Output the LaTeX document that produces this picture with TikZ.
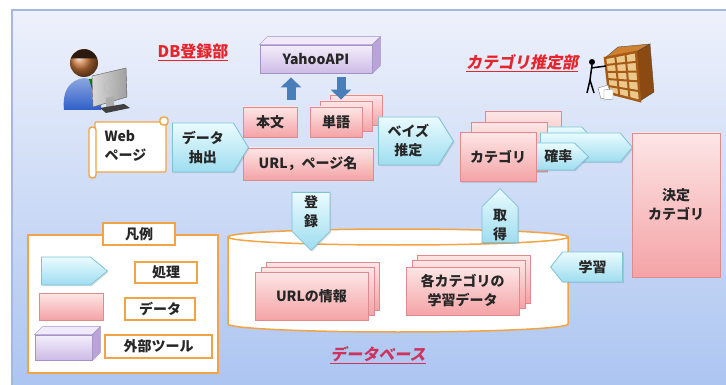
\documentclass[tikz,border=0pt]{standalone}
\usepackage{fontspec}
\setmainfont{Noto Sans CJK JP}
\newfontfamily\slantjp[FakeSlant=0.2]{Noto Sans CJK JP}
\usetikzlibrary{shapes.symbols,shadows,arrows.meta,calc}

\definecolor{proctop}{HTML}{EAFBFE}
\definecolor{procbot}{HTML}{9EDDF0}
\definecolor{procline}{HTML}{7CC3D8}
\definecolor{datatop}{HTML}{FDE6E6}
\definecolor{databot}{HTML}{F4A3A6}
\definecolor{dataline}{HTML}{DE8A8E}
\definecolor{tooltop}{HTML}{F4EEFB}
\definecolor{toolbot}{HTML}{CDBBE6}
\definecolor{toolline}{HTML}{A592C8}
\definecolor{toolcap}{HTML}{F1EAFA}
\definecolor{toolside}{HTML}{B9A3D9}
\definecolor{orangeline}{HTML}{F2A444}
\definecolor{apiblue}{HTML}{4A7EBB}
\definecolor{titlered}{HTML}{E5252B}
\definecolor{dbred}{HTML}{D0325E}
\definecolor{bgtop}{HTML}{EEF1FB}
\definecolor{bgbot}{HTML}{ACC5F1}
\definecolor{frameline}{HTML}{A3B9DF}
\definecolor{ink}{HTML}{262626}
\definecolor{facebrown}{HTML}{C8763A}
\definecolor{hairc}{HTML}{2A1A10}
\definecolor{personblue}{HTML}{2E5FC8}
\definecolor{shelfframe}{HTML}{A65A16}
\definecolor{shelfside}{HTML}{8A4A12}
\definecolor{shelftop}{HTML}{CF8030}
\definecolor{cubby}{HTML}{EBC98C}

\tikzset{
  lbl/.style={font=\fontsize{14}{19}\selectfont\bfseries, text=ink},
  softshadow/.style={drop shadow={shadow xshift=1.2pt, shadow yshift=-1.2pt, opacity=0.25}},
  datacard/.style={rectangle, draw=dataline, line width=0.8pt, top color=datatop,
    bottom color=databot, inner sep=0pt, softshadow, lbl, align=center},
  proc/.style={signal, draw=procline, line width=0.8pt, top color=proctop,
    bottom color=procbot, inner sep=0pt, softshadow, lbl, align=center},
  toolface/.style={rectangle, draw=toolline, line width=0.8pt, top color=tooltop,
    bottom color=toolbot, inner sep=0pt, lbl},
  legendbox/.style={rectangle, draw=orangeline, line width=1.4pt, fill=white, inner sep=0pt},
  legendtag/.style={legendbox, lbl},
  title/.style={font=\fontsize{16}{18}\selectfont\bfseries},
  apiarrow/.style={apiblue, line width=9pt, -{Triangle[length=10pt,width=20pt]}},
}

\begin{document}
\begin{tikzpicture}[x=1pt,y=-1pt]
\useasboundingbox (0,0) rectangle (726,385);

% backdrop panel
\shade[top color=bgtop,bottom color=bgbot] (12,10) rectangle (727,386);
\draw[frameline,line width=1.6pt] (12,386) -- (12,10) -- (727,10);

% section titles
\node[title, text=titlered] (dbtitle) at (193,52) {\underline{DB登録部}};
\node[title, text=titlered] (cattitle) at (522,63) {\slantjp\bfseries\underline{カテゴリ推定部}};
\node[title, text=dbred] (dbname) at (378,355) {\slantjp\bfseries\underline{データベース}};

% user at the computer
\shade[top color=personblue!55!white, bottom color=personblue]
  (64,110) .. controls (62,90) and (70,80) .. (84,78) .. controls (96,79) and (100,86) .. (101,98) -- (101,110) -- cycle;
\fill[green!50!black] (89,79) -- (94,79) -- (92,89) -- cycle;
\shade[ball color=facebrown] (84,63) circle[radius=14pt];
\fill[hairc] (84,63) ++(-13.2pt,4.5pt) arc[start angle=160,end angle=20,radius=14pt] -- cycle;
\shadedraw[left color=gray!30, right color=gray!75, draw=gray!70!black]
  (92,76) -- (126,68) -- (127,97) -- (93,107) -- cycle;
\draw[gray!55] (110,87) circle[radius=6pt];
\fill[gray!65] (106,98) -- (114,96) -- (114,106) -- (106,108) -- cycle;
\fill[gray!50!black] (100,108) -- (124,104) -- (130,108) -- (106,113) -- cycle;

% person filing into the shelf
\filldraw[fill=shelftop, draw=black!70] (605,58) -- (618,47) -- (650,44) -- (636,52) -- cycle;
\filldraw[fill=shelfside, draw=black!70] (636,52) -- (650,44) -- (654,92) -- (640,101) -- cycle;
\filldraw[fill=cubby, draw=black!70] (605,58) -- (636,52) -- (640,101) -- (609,93) -- cycle;
\coordinate (sA) at (605,58); \coordinate (sB) at (636,52);
\coordinate (sC) at (640,101); \coordinate (sD) at (609,93);
\foreach \f in {0.33,0.66}
  \draw[shelfframe, line width=2pt] ($(sA)!\f!(sB)$) -- ($(sD)!\f!(sC)$);
\foreach \f in {0.2,0.4,0.6,0.8}
  \draw[shelfframe, line width=2pt] ($(sA)!\f!(sD)$) -- ($(sB)!\f!(sC)$);
\draw[shelfframe, line width=2.4pt] (sA) -- (sB) -- (sC) -- (sD) -- cycle;
\fill (592,62) circle[radius=3pt];
\draw[line width=1.5pt] (592,65) -- (590,80) -- (587,93) (590,80) -- (594,93) (591,68) -- (606,66);
\filldraw[fill=white, draw=gray] (598,88) -- (608,85) -- (611,96) -- (601,99) -- cycle;
\filldraw[fill=white, draw=gray] (604,90) -- (613,89) -- (613,99) -- (604,100) -- cycle;

% external tool
\node[toolface, minimum width=112pt, minimum height=28pt] (yahoo) at (316,59) {YahooAPI};
\filldraw[fill=toolcap, draw=toolline] (yahoo.north west) -- ++(8pt,8pt)
  -- ([shift={(8pt,8pt)}]yahoo.north east) -- (yahoo.north east) -- cycle;
\filldraw[fill=toolside, draw=toolline] (yahoo.north east) -- ++(8pt,8pt)
  -- ([shift={(8pt,8pt)}]yahoo.south east) -- (yahoo.south east) -- cycle;

% web page scroll
\filldraw[fill=white, draw=orangeline, line width=1.4pt, rounded corners=1pt] (95,122) rectangle (166,172);
\filldraw[fill=white, draw=orangeline, line width=1.4pt, rounded corners=3pt] (89,127) rectangle (96,178);
\filldraw[fill=white, draw=orangeline, line width=1.4pt, rounded corners=3pt] (160,117) rectangle (168,125);
\node[lbl, align=left, anchor=west] (web) at (101,146) {Web\\ページ};

% extracted data
\node[datacard, minimum width=54pt, minimum height=30pt] (honbun) at (270,122) {本文};
\node[datacard, minimum width=52pt, minimum height=30pt] (tangoB2) at (356,110) {};
\node[datacard, minimum width=52pt, minimum height=30pt] (tangoB1) at (346,116) {};
\node[datacard, minimum width=52pt, minimum height=30pt] (tango) at (336,122) {単語};
\node[datacard, minimum width=130pt, minimum height=32pt] (urlname) at (308,164) {URL，ページ名};

% API calls
\coordinate (upfoot) at ([xshift=21pt]honbun.north);
\draw[apiarrow, shorten <=7pt, shorten >=4pt] (upfoot) -- (upfoot |- yahoo.south);
\coordinate (downtop) at ([xshift=25pt]yahoo.south);
\draw[apiarrow, shorten <=4pt, shorten >=7pt] (downtop) -- (downtop |- tango.north);

% processing steps
\node[proc, anchor=west, minimum width=76pt, minimum height=49pt, signal pointer angle=117] (extract) at (172,147.5) {データ\\抽出};
\node[proc, anchor=west, minimum width=75pt, minimum height=48pt, signal pointer angle=116] (bayes) at (378,141) {ベイズ\\推定};

% categories and probabilities
\node[datacard, minimum width=76pt, minimum height=49pt] (catB2) at (523,136) {};
\node[proc, anchor=west, minimum width=52pt, minimum height=23pt, signal pointer angle=95] (probB) at (540,138.5) {};
\node[datacard, minimum width=76pt, minimum height=49pt] (catB1) at (509,147) {};
\node[proc, anchor=west, minimum width=92pt, minimum height=29pt, signal pointer angle=100] (probM) at (540,147.5) {};
\node[proc, anchor=west, minimum width=60pt, minimum height=27pt, signal pointer angle=88] (prob) at (528,156.5) {\hspace*{14pt}確率};
\node[datacard, minimum width=76pt, minimum height=49pt] (cat) at (498,157) {カテゴリ};

\node[datacard, minimum width=88pt, minimum height=144pt] (decide) at (676,205) {決定\\カテゴリ};

% database cylinder
\filldraw[fill=white, draw=orangeline, line width=1.5pt]
  (228,237) -- (228,324) arc[start angle=180,end angle=360,x radius=170pt,y radius=8pt]
  -- (568,237) arc[start angle=0,end angle=180,x radius=170pt,y radius=8pt] -- cycle;
\draw[orangeline, line width=1.5pt] (568,237) arc[start angle=0,end angle=-180,x radius=170pt,y radius=8pt];

\node[datacard, minimum width=113pt, minimum height=48pt] (urlinfoB2) at (322.5,286) {};
\node[datacard, minimum width=113pt, minimum height=48pt] (urlinfoB1) at (317.5,291) {};
\node[datacard, minimum width=113pt, minimum height=48pt] (urlinfo) at (311.5,296) {URLの情報};
\node[datacard, minimum width=113pt, minimum height=48pt] (learnB2) at (473.5,279) {};
\node[datacard, minimum width=113pt, minimum height=48pt] (learnB1) at (468.5,284) {};
\node[datacard, minimum width=113pt, minimum height=48pt] (learn) at (462.5,291) {各カテゴリの\\学習データ};

\node[proc, signal to=south, anchor=north, minimum width=38pt, minimum height=46pt, signal pointer angle=90] (toroku) at (311,192) {登\\録};
\node[proc, signal to=north, anchor=south, minimum width=36pt, minimum height=43pt, signal pointer angle=90] (shutoku) at (500,243) {取\\得};
\node[proc, signal to=west, anchor=east, minimum width=72pt, minimum height=30pt, signal pointer angle=103] (gakushu) at (623,267) {学習};

% legend
\node[legendbox, minimum width=190pt, minimum height=138pt] (legend) at (123,304) {};
\node[legendtag, minimum width=72pt, minimum height=22pt] (legendhead) at (139,234) {凡例};
\node[proc, anchor=west, minimum width=66pt, minimum height=28pt, signal pointer angle=79] (procsample) at (41,271) {};
\node[legendtag, minimum width=62pt, minimum height=21pt] (proctag) at (166,272.5) {処理};
\node[datacard, minimum width=64pt, minimum height=27pt] (datasample) at (71,306.5) {};
\node[legendtag, minimum width=70pt, minimum height=22pt] (datatag) at (160,309) {データ};
\node[toolface, minimum width=57pt, minimum height=25pt] (toolsample) at (63.5,347.5) {};
\filldraw[fill=toolcap, draw=toolline] (toolsample.north west) -- ++(8pt,8pt)
  -- ([shift={(8pt,8pt)}]toolsample.north east) -- (toolsample.north east) -- cycle;
\filldraw[fill=toolside, draw=toolline] (toolsample.north east) -- ++(8pt,8pt)
  -- ([shift={(8pt,8pt)}]toolsample.south east) -- (toolsample.south east) -- cycle;
\node[legendtag, minimum width=107pt, minimum height=23pt] (tooltag) at (158.5,346.5) {外部ツール};

\end{tikzpicture}
\end{document}
